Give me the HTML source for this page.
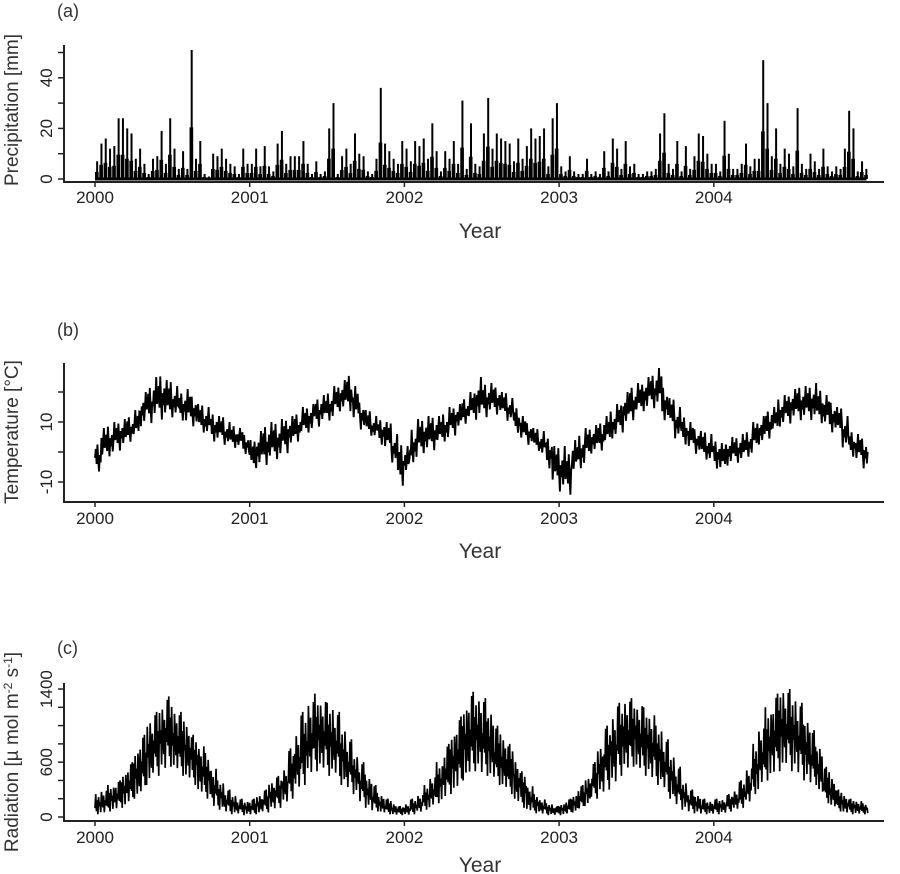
<!DOCTYPE html>
<html><head><meta charset="utf-8"><style>
html,body{margin:0;padding:0;background:#fff;}
svg{display:block;font-family:"Liberation Sans",sans-serif;}
</style></head><body>
<svg id="chart" width="900" height="874" viewBox="0 0 900 874">
<g id="axes"></g><g id="marks"></g>
</svg>
<script>
const years = [2000, 2001, 2002, 2003, 2004];
// Precipitation: max daily value (mm) per ~10-day bin, 36 bins per year
const precip2000 = [7,14,16,12,13,24,24,20,18,8,12,6,2,8,9,19,6,24,12,4,11,4,51,8,15,2,1,10,9,12,8,6,5,2,12,6];
const precip2001 = [6,12,5,13,5,3,14,19,6,9,9,9,15,6,2,7,2,3,20,30,2,9,12,6,18,10,9,3,2,8,36,14,11,8,6,15];
const precip2002 = [12,7,15,13,16,8,22,11,3,11,8,15,6,31,4,22,6,5,18,32,12,18,16,15,14,7,16,8,13,20,16,17,20,5,24,30];
const precip2003 = [5,3,9,3,2,2,8,2,3,2,11,3,16,12,4,15,5,6,2,2,3,3,4,18,26,6,4,15,3,13,4,9,18,17,10,6];
const precip2004 = [6,3,23,10,4,4,6,14,5,8,8,47,30,9,20,6,12,10,5,28,6,4,10,7,4,12,5,3,5,4,12,27,20,3,7,4];
const precipTicks = [0, 20, 40];
// Temperature (°C): half-month high / low, 24 per year
const tempHi2000 = [3,8,9,10,11,12,14,20,22,25,26,24,22,20,21,19,16,15,13,12,10,9,8,6];
const tempLo2000 = [-7,-3,-2,0,1,3,4,8,9,10,10,10,11,10,8,8,6,5,3,3,2,1,1,-1];
const tempHi2001 = [4,7,9,10,10,11,12,13,15,16,18,19,20,22,24,26,22,17,14,12,11,10,6,3];
const tempLo2001 = [-7,-6,-5,-4,-3,-1,1,3,5,6,8,9,10,12,13,13,9,7,5,4,2,0,-4,-12];
const tempHi2002 = [2,8,11,12,12,12,13,15,16,18,20,25,23,23,22,20,18,15,12,10,8,7,5,2];
const tempLo2002 = [-8,-4,-2,-1,0,2,3,5,7,9,10,10,11,12,12,11,10,6,3,2,0,-2,-6,-12];
const tempHi2003 = [2,0,4,6,8,9,10,12,14,16,20,22,23,25,26,28,22,18,15,12,10,8,7,6];
const tempLo2003 = [-14,-15,-8,-6,-3,-1,0,2,4,6,8,10,12,13,14,14,10,7,4,2,0,-1,-3,-4];
const tempHi2004 = [4,3,5,5,6,7,10,12,14,15,18,19,21,22,22,23,21,19,17,15,12,7,6,5];
const tempLo2004 = [-6,-7,-5,-4,-4,-2,0,2,4,6,8,9,10,10,10,10,9,8,6,5,1,-2,-4,-6];
const tempTicks = [10, -10];
// Radiation: half-month high / low, 24 per year
const radHi2000 = [250,300,350,400,500,600,750,900,1100,1150,1250,1320,1200,1150,1050,900,800,700,550,400,300,250,200,180];
const radLo2000 = [30,40,60,80,100,150,200,250,350,450,500,550,500,450,400,350,250,200,100,80,50,30,30,20];
const radHi2001 = [200,250,300,400,450,550,750,950,1150,1300,1350,1300,1250,1150,1000,850,700,600,450,350,250,200,150,120];
const radLo2001 = [20,30,50,80,100,150,200,300,350,450,500,500,450,450,350,300,250,150,100,60,40,30,20,20];
const radHi2002 = [150,200,250,350,450,600,800,950,1100,1250,1370,1350,1300,1200,1000,900,800,650,500,350,250,200,150,120];
const radLo2002 = [20,30,50,80,120,150,200,250,300,400,450,500,450,400,350,300,250,150,100,60,40,30,20,20];
const radHi2003 = [150,200,250,350,450,600,800,1000,1150,1250,1320,1300,1250,1200,1150,1000,850,700,550,400,300,250,200,180];
const radLo2003 = [20,30,50,80,120,200,250,300,350,450,500,550,500,450,400,350,300,200,120,80,50,40,30,30];
const radHi2004 = [200,200,250,300,400,550,800,1000,1200,1350,1450,1400,1350,1250,1100,950,800,550,450,300,250,200,180,150];
const radLo2004 = [30,40,60,80,100,150,250,350,400,450,500,550,500,450,400,350,250,150,100,60,40,30,30,30];
const radTicks = [0, 600, 1400];

const NS = "http://www.w3.org/2000/svg";
const axes = document.getElementById('axes');
const marks = document.getElementById('marks');
function mk(tag, attrs, parent) {
  const e = document.createElementNS(NS, tag);
  for (const k in attrs) e.setAttribute(k, attrs[k]);
  (parent || marks).appendChild(e);
  return e;
}
const X0 = 95, PXY = 154.7;
function xScale(t) { return X0 + PXY * t; }

const panels = [
  {key:'precipitation', label:'(a)', labelY:17, top:45, axisY:182, zero:179, ppu:2.53, minor:10, minMinor:0, maxMinor:50, ticks:precipTicks, title:'Precipitation [mm]', titleY:110, xlabY:203, yearY:238},
  {key:'temperature', label:'(b)', labelY:336, top:363, axisY:502, zero:452, ppu:3.0, minor:10, minMinor:-10, maxMinor:20, ticks:tempTicks, title:'Temperature [°C]', titleY:432, xlabY:524, yearY:558},
  {key:'radiation', label:'(c)', labelY:654, top:683, axisY:821, zero:817, ppu:0.0914, minor:200, minMinor:0, maxMinor:1400, ticks:radTicks, title:'Radiation', titleY:752, xlabY:843, yearY:872}
];

panels.forEach(p => {
  const g = mk('g', {}, axes);
  
  
  const yS = v => p.zero - v * p.ppu;
  let t = mk('text', {x:57, y:p.labelY, 'font-size':18, fill:'#333'}, g);
  t.textContent = p.label;
  
  
  let l = mk('line', {x1:64, y1:p.top, x2:64, y2:p.axisY, stroke:'#222', 'stroke-width':2}, g);
  
  
  l = mk('line', {x1:63, y1:p.axisY, x2:884, y2:p.axisY, stroke:'#222', 'stroke-width':2}, g);
  
  
  for (let v = p.minMinor; v <= p.maxMinor; v += p.minor) {
    const tk = mk('line', {x1:58, y1:yS(v), x2:64, y2:yS(v), stroke:'#222', 'stroke-width':1.5}, g);
    
    
  }
  p.ticks.forEach(v => {
    const y = yS(v);
    const tl = mk('text', {x:0, y:0, 'font-size':17, fill:'#222', 'text-anchor':'middle', transform:`translate(52,${y}) rotate(-90)`}, g);
    tl.textContent = v;
    
    
  });
  years.forEach((yr, i) => {
    const x = xScale(i);
    const tk = mk('line', {x1:x, y1:p.axisY, x2:x, y2:p.axisY + 5, stroke:'#222', 'stroke-width':1.5}, g);
    
    
    const tl = mk('text', {x:x, y:p.xlabY, 'font-size':17, fill:'#222', 'text-anchor':'middle'}, g);
    tl.textContent = yr;
    
    
  });
  const xt = mk('text', {x:480, y:p.yearY, 'font-size':21, fill:'#333', 'text-anchor':'middle'}, g);
  xt.textContent = 'Year';
  
  
  const yt = mk('text', {x:0, y:0, 'font-size':19, fill:'#333', 'text-anchor':'middle', transform:`translate(18,${p.titleY}) rotate(-90)`}, g);
  if (p.key === 'radiation') {
    yt.innerHTML = 'Radiation [µ mol m<tspan dy="-6" font-size="12">-2</tspan><tspan dy="6"> s</tspan><tspan dy="-6" font-size="12">-1</tspan><tspan dy="6">]</tspan>';
  } else {
    yt.textContent = p.title;
  }
  
  
});

// Precipitation marks
(function(){
  const p = panels[0];
  const yS = v => p.zero - v * p.ppu;
  const series = [precip2000, precip2001, precip2002, precip2003, precip2004];
  const base = mk('line', {x1:xScale(0), y1:yS(0), x2:xScale(5) - 2, y2:yS(0), stroke:'#000', 'stroke-width':3});
  
  
  series.forEach((arr, yi) => {
    const w = 1 / arr.length;
    arr.forEach((v, i) => {
      const x = xScale(yi + (i + 0.5) * w);
      const bar = mk('line', {x1:x, y1:yS(0), x2:x, y2:yS(v), stroke:'#000', 'stroke-width':2});
      
      
      const h = v * 0.4 * p.ppu;
      const fill = mk('rect', {x:xScale(yi + i * w), y:yS(0) - h, width:PXY * w * 0.85, height:h, fill:'#000'});
      
      
    });
  });
})();

// Range series drawer (irregular rendering pattern between low and high)
function drawRange(p, his, los, weights, steps, name, sw) {
  const yS = v => p.zero - v * p.ppu;
  let d = '';
  let c = 0;
  his.forEach((hiArr, yi) => {
    const loArr = los[yi];
    const n = hiArr.length;
    hiArr.forEach((hi, i) => {
      const lo = loArr[i];
      for (let j = 0; j < steps; j++) {
        const t = yi + (i + j / steps) / n;
        const wt = weights[c % weights.length]; c++;
        const v = lo + (hi - lo) * wt;
        d += (d ? 'L' : 'M') + xScale(t).toFixed(2) + ',' + yS(v).toFixed(2);
      }
    });
  });
  const path = mk('path', {d:d, fill:'none', stroke:'#000', 'stroke-width':sw, 'stroke-linejoin':'miter'});
  
  
}
drawRange(panels[1],
  [tempHi2000, tempHi2001, tempHi2002, tempHi2003, tempHi2004],
  [tempLo2000, tempLo2001, tempLo2002, tempLo2003, tempLo2004],
  [0.5, 0.8, 0.3, 0.95, 0.45, 0.05, 0.6, 0.35, 0.7, 0.2, 0.55, 1.0, 0.4], 8, 'temperature-line', 1.9);
drawRange(panels[2],
  [radHi2000, radHi2001, radHi2002, radHi2003, radHi2004],
  [radLo2000, radLo2001, radLo2002, radLo2003, radLo2004],
  [0.3, 1.0, 0.15, 0.7, 0.0, 0.85, 0.4, 0.6, 0.1, 0.9, 0.5, 0.25, 0.75, 0.05, 0.55, 0.35, 0.95], 9, 'radiation-line', 1.7);
</script>
</body></html>
